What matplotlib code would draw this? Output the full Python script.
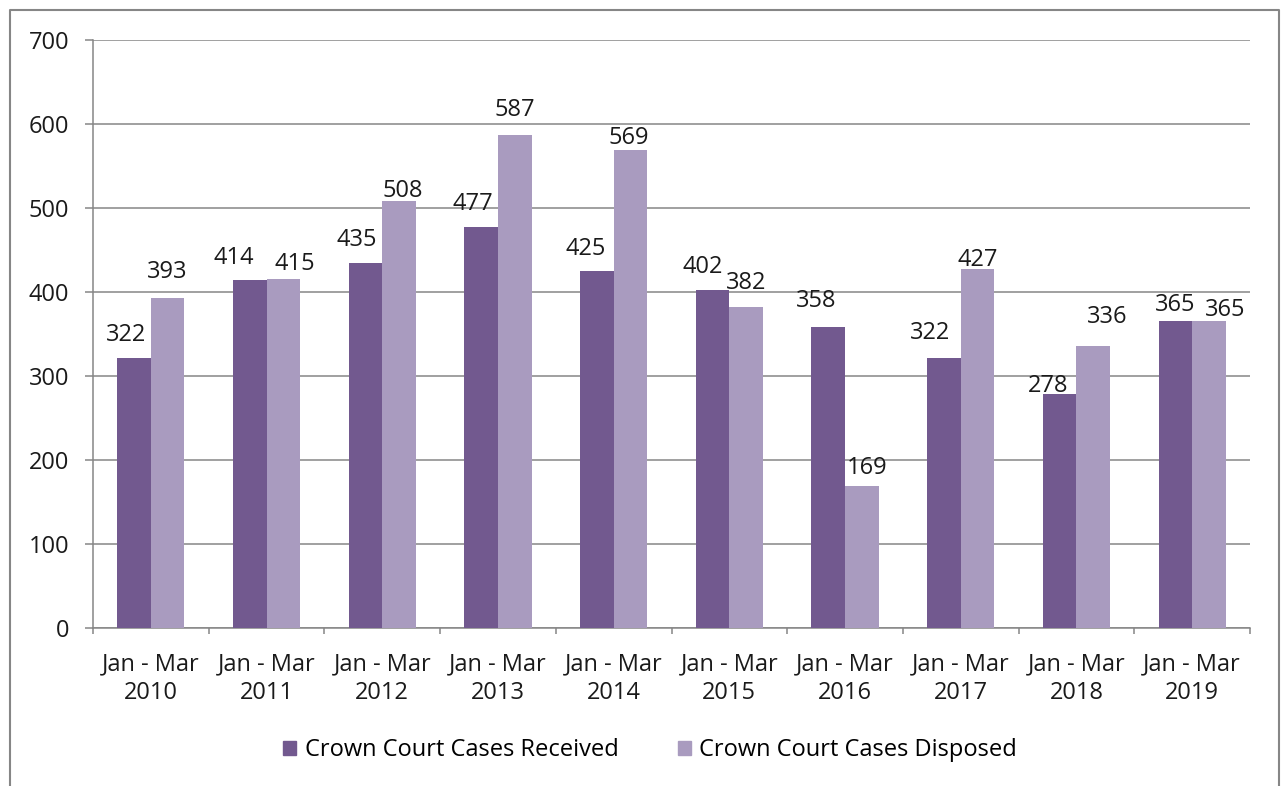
import matplotlib.pyplot as plt
import numpy as np
from matplotlib.patches import Rectangle
from matplotlib.lines import Line2D

categories = ['Jan - Mar\n2010', 'Jan - Mar\n2011', 'Jan - Mar\n2012', 'Jan - Mar\n2013',
              'Jan - Mar\n2014', 'Jan - Mar\n2015', 'Jan - Mar\n2016', 'Jan - Mar\n2017',
              'Jan - Mar\n2018', 'Jan - Mar\n2019']
received = [322, 414, 435, 477, 425, 402, 358, 322, 278, 365]
disposed = [393, 415, 508, 587, 569, 382, 169, 427, 336, 365]
series_names = ['Crown Court Cases Received', 'Crown Court Cases Disposed']

# label nudges in pixels (x, gap above bar)
recv_dx = [-8, -16, -9, -8, -11, -10, -12, -14, -12, 0]
recv_gap = [17, 16, 17, 17, 16, 17, 20, 19, 2, 10]
disp_dx = [0, 11, 4, 0, -2, 0, 5, 0, 14, 16]
disp_gap = [20, 9, 4, 19, 6, 18, 12, 3, 23, 5]

dark = '#72598F'
light = '#A99BBF'
grey = '#868686'
txt = '#1a1a1a'
fs = 17

plt.rcParams['font.family'] = ['Open Sans', 'DejaVu Sans']

fig = plt.figure(figsize=(12.81, 7.86), dpi=100)
ax = fig.add_axes([93/1281, 1-628/786, (1250-93)/1281, (628-40)/786])

x = np.arange(len(categories))
w = 0.29
b1 = ax.bar(x - w/2, received, w, color=dark, label=series_names[0], zorder=3)
b2 = ax.bar(x + w/2, disposed, w, color=light, label=series_names[1], zorder=3)

px = 72 / 100  # pixels -> points
for bars, dxs, gaps in ((b1, recv_dx, recv_gap), (b2, disp_dx, disp_gap)):
    for r, dx, g in zip(bars, dxs, gaps):
        ax.annotate(str(int(r.get_height())), (r.get_x() + r.get_width()/2, r.get_height()),
                    xytext=(dx*px, g*px), textcoords='offset points',
                    ha='center', va='baseline', fontsize=fs, color=txt, zorder=4)

ax.set_xlim(-0.5, len(categories) - 0.5)
ax.set_ylim(0, 700)
ax.set_yticks(range(0, 701, 100))
ax.yaxis.grid(True, color=grey, linewidth=1.1, zorder=0)
ax.set_axisbelow(True)

ax.set_xticks(x)
ax.set_xticklabels(categories, fontsize=fs, color=txt, linespacing=1.26)
ax.set_xticks(np.arange(-0.5, len(categories)), minor=True)
ax.tick_params(axis='x', which='major', length=0, pad=17.5)
ax.tick_params(axis='x', which='minor', length=4.5, width=1.1, color=grey, direction='out')
ax.tick_params(axis='y', length=6, width=1.1, color=grey, labelsize=fs, labelcolor=txt, pad=11)

for s in ['top', 'right']:
    ax.spines[s].set_visible(False)
for s in ['left', 'bottom']:
    ax.spines[s].set_color(grey)
    ax.spines[s].set_linewidth(1.1)

handles = [Rectangle((0, 0), 1, 1, color=dark), Rectangle((0, 0), 1, 1, color=light)]
fig.legend(handles, series_names, loc='center', bbox_to_anchor=(650/1281, 1-750/786),
           ncol=2, frameon=False, fontsize=fs, handlelength=0.55, handleheight=0.55,
           handletextpad=0.35, columnspacing=2.5)

# outer chart border (bottom edge runs off the picture)
fig.add_artist(Line2D([10/1281, 10/1281, 1279/1281, 1279/1281],
                      [-0.05, 1-10/786, 1-10/786, -0.05],
                      transform=fig.transFigure, color=grey, linewidth=1.5))

fig.savefig('out.png', dpi=100)
